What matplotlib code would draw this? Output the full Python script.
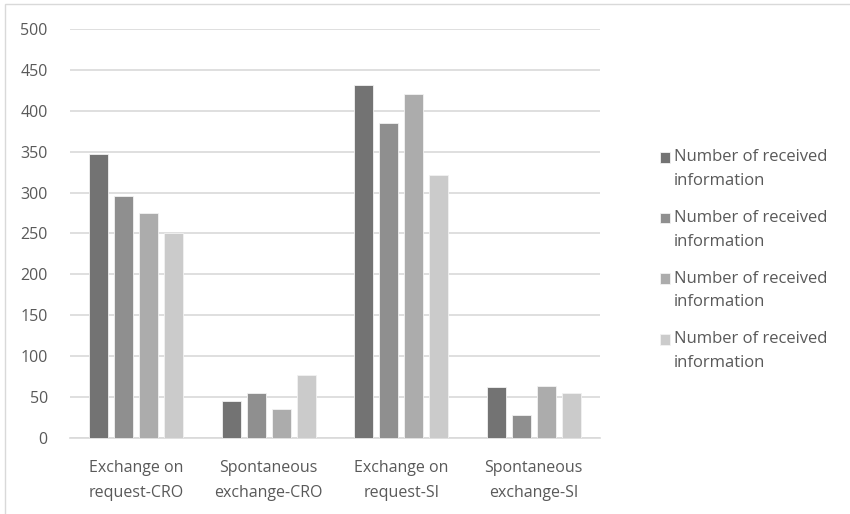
import numpy as np
import matplotlib.pyplot as plt
from matplotlib.patches import Rectangle
from matplotlib.legend_handler import HandlerPatch

categories = ["Exchange on\nrequest-CRO", "Spontaneous\nexchange-CRO",
              "Exchange on\nrequest-SI", "Spontaneous\nexchange-SI"]
series_labels = ["Number of received\ninformation"] * 4
series_1 = [347, 45, 432, 62]
series_2 = [296, 55, 385, 28]
series_3 = [275, 36, 420, 64]
series_4 = [251, 77, 322, 55]
yticks = [0, 50, 100, 150, 200, 250, 300, 350, 400, 450, 500]

colors = ["#737373", "#8f8f8f", "#acacac", "#cbcbcb"]
text_col = "#595959"
plt.rcParams['font.family'] = ['Open Sans', 'DejaVu Sans']


def top_square(legend, orig_handle, xdescent, ydescent, width, height, fontsize):
    # legend key sits on the first line of a two-line label
    return Rectangle((-xdescent, -ydescent + 8.6), width, height)


fig = plt.figure(figsize=(8.5, 5.14), dpi=100)
ax = fig.add_axes([70 / 850, 1 - 438 / 514, 530 / 850, 409 / 514])

# light frame around the chart area
fig.patches.append(Rectangle((5 / 850, -0.1), 1.2, 1 - 4 / 514 + 0.1,
                             transform=fig.transFigure, fill=False,
                             edgecolor="#d9d9d9", linewidth=1))

x = np.arange(len(categories))
width = 0.143
step = 0.189
all_series = [series_1, series_2, series_3, series_4]
bars = []
for i, vals in enumerate(all_series):
    b = ax.bar(x + (i - 1.5) * step, vals, width, color=colors[i],
               edgecolor="#f2f2f2", linewidth=0.6, label=series_labels[i], zorder=3)
    bars.append(b)

ax.set_xlim(-0.5, 3.5)
ax.set_ylim(0, 500)
ax.set_yticks(yticks)
ax.set_xticks(x)
ax.set_xticklabels(categories, fontsize=11.5, color=text_col, linespacing=1.75)
ax.tick_params(axis='y', labelsize=11.5, labelcolor=text_col, length=0, pad=16)
ax.tick_params(axis='x', length=0, pad=16)
ax.grid(axis='y', color="#d9d9d9", linewidth=1.2, zorder=0)
for s in ["top", "right", "left"]:
    ax.spines[s].set_visible(False)
ax.spines["bottom"].set_color("#d9d9d9")
ax.spines["bottom"].set_linewidth(1.2)

handles = [b.patches[0] for b in bars]
leg = ax.legend(handles, series_labels, loc="center left",
                bbox_to_anchor=(1.085, 0.435), frameon=False,
                fontsize=12, labelcolor=text_col, handlelength=0.6,
                handleheight=0.6, handletextpad=0.25, labelspacing=1.25,
                handler_map={h: HandlerPatch(patch_func=top_square) for h in handles})
for t in leg.get_texts():
    t.set_linespacing(1.65)

fig.savefig("out.png", dpi=100)
